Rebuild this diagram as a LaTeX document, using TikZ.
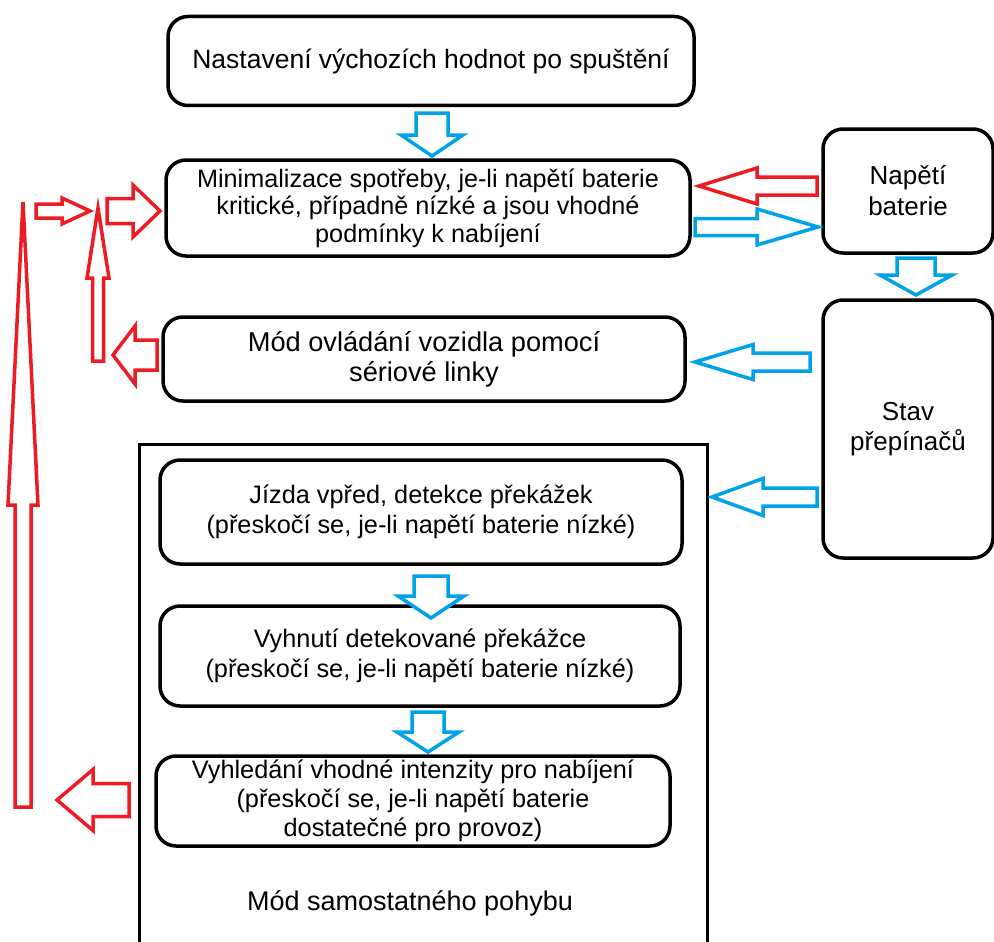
\documentclass[tikz,border=0pt]{standalone}
\usepackage{fontspec}
\setmainfont{Liberation Sans}
\definecolor{pred}{HTML}{ED1C24}
\definecolor{pblue}{HTML}{00A2E8}
\tikzset{
  box/.style={draw=black, line width=3.5pt, rounded corners=20pt, align=center, inner sep=0pt, fill=white},
  frame/.style={draw=black, line width=3pt, inner sep=0pt},
  txt/.style={font=\fontsize{25}{28}\selectfont},
  pics/barrow/.style args={#1/#2/#3/#4}{code={
    \draw[line width=3.5pt, fill=white] (0,0) -- (-#4,#3) -- (-#4,#2) -- (-#1,#2) -- (-#1,-#2) -- (-#4,-#2) -- (-#4,-#3) -- cycle;
  }},
}
\begin{document}
\begin{tikzpicture}[x=1pt,y=-1pt]
\useasboundingbox (0,0) rectangle (994,942);
% container
\node[frame, minimum width=568pt, minimum height=516pt] (big) at (423,702) {};
\node[txt, font=\fontsize{27}{30}\selectfont] (bigl) at (410,903) {Mód samostatného pohybu};
% boxes
\node[box, txt, font=\fontsize{26.5}{30}\selectfont, minimum width=526pt, minimum height=89pt] (top) at (431,61) {Nastavení výchozích hodnot po spuštění};
\node[box, txt, minimum width=524pt, minimum height=96pt, font=\fontsize{25.2}{27.5}\selectfont] (min) at (428,208) {Minimalizace spotřeby, je-li napětí baterie\\kritické, případně nízké a jsou vhodné\\podmínky k nabíjení};
\node[box, txt, minimum width=170pt, minimum height=124pt, font=\fontsize{26}{31}\selectfont] (nap) at (908,191) {Napětí\\baterie};
\node[box, txt, minimum width=522pt, minimum height=84pt, font=\fontsize{27.2}{30}\selectfont] (mod) at (424,359) {Mód ovládání vozidla pomocí\\sériové linky};
\node[box, txt, minimum width=170pt, minimum height=258pt, font=\fontsize{26}{30}\selectfont] (stav) at (908,429) {Stav\\přepínačů};
\node[box, txt, minimum width=522pt, minimum height=104pt, font=\fontsize{25.3}{30}\selectfont] (jizda) at (421,512) {Jízda vpřed, detekce překážek\\(přeskočí se, je-li napětí baterie nízké)};
\node[box, txt, minimum width=520pt, minimum height=100pt, font=\fontsize{25.3}{30}\selectfont] (vyhnuti) at (420,656) {Vyhnutí detekované překážce\\(přeskočí se, je-li napětí baterie nízké)};
\node[box, txt, minimum width=514pt, minimum height=90pt, font=\fontsize{25.3}{29}\selectfont] (vyhl) at (413,801) {Vyhledání vhodné intenzity pro nabíjení\\(přeskočí se, je-li napětí baterie\\dostatečné pro provoz)};
% blue arrows
\pic[pblue, rotate=-90] at (432,156) {barrow=43/16/31/21};
\pic[pblue] at (818,227) {barrow=123/8.5/18/61};
\pic[pblue, rotate=-90] at (916,295) {barrow=37/19/36/20};
\pic[pblue, rotate=180] at (695,362) {barrow=115/9/17.5/58};
\pic[pblue, rotate=180] at (712,497) {barrow=105/9/18.5/51};
\pic[pblue, rotate=-90] at (431,618) {barrow=42/17/33/22};
\pic[pblue, rotate=-90] at (428,752) {barrow=40/16/31/20};
% red arrows
\pic[pred, rotate=180] at (699,186) {barrow=118/9/18/58};
\pic[pred, rotate=180] at (57,800) {barrow=72/16.5/30.5/36};
\pic[pred, rotate=90] at (23,202) {barrow=605/8/15/303};
\pic[pred] at (90,211) {barrow=54/7/13/28};
\pic[pred, rotate=90] at (98,208) {barrow=153/5.5/11/70};
\pic[pred] at (160,211) {barrow=53/12.5/26/27};
\pic[pred, rotate=180] at (113,355) {barrow=44/15/29/22};
\end{tikzpicture}
\end{document}
